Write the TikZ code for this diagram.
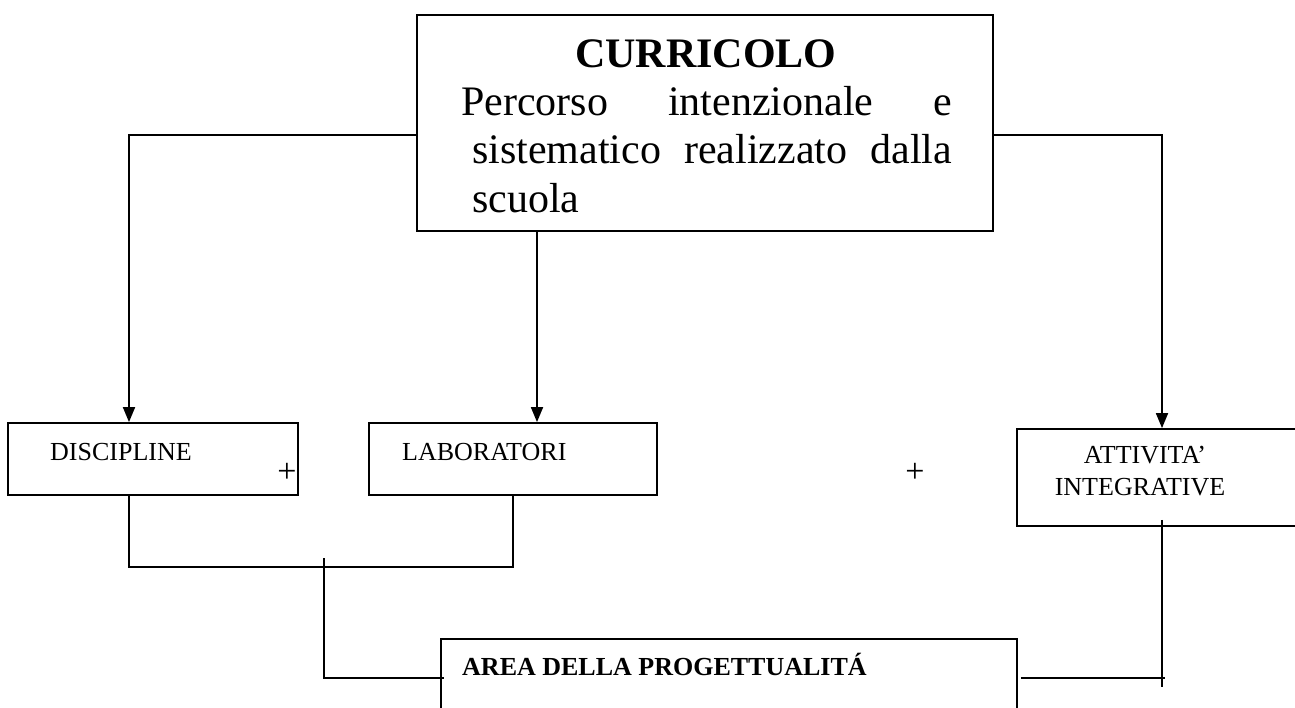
\documentclass[tikz,border=0pt]{standalone}
\usepackage{fontspec}
\setmainfont{Liberation Serif}
\usetikzlibrary{arrows.meta}
\begin{document}
\begin{tikzpicture}[x=1pt,y=-1pt,
  box/.style={draw,line width=1.8pt,inner sep=0pt,rectangle},
  txt/.style={inner sep=0pt,anchor=base west},
  conn/.style={line width=1.8pt},
  arr/.style={line width=1.8pt,-{Triangle[length=15pt,width=12pt]}},
  big/.style={font=\fontsize{42}{48}\selectfont},
  small/.style={font=\fontsize{26}{30}\selectfont}]
\useasboundingbox (0,0) rectangle (1295,707);
\clip (0,0) rectangle (1295,707);
% boxes
\node[box,minimum width=576pt,minimum height=216pt] (cur) at (705,123) {};
\node[box,minimum width=290pt,minimum height=72pt] (disc) at (153,459) {};
\node[box,minimum width=288pt,minimum height=72pt] (lab) at (513,459) {};
\node[box,minimum width=290pt,minimum height=97pt] (att) at (1162,477.5) {};
\node[box,minimum width=576pt,minimum height=90pt] (area) at (729,684) {};
% texts
\node[inner sep=0pt,anchor=base,font=\fontsize{42}{48}\selectfont\bfseries] (t0) at (706,67) {CURRICOLO};
\node[txt,big] (t1) at (461,115) {\makebox[491pt][s]{Percorso intenzionale e}};
\node[txt,big] (t2) at (472,163) {\makebox[480pt][s]{sistematico realizzato dalla}};
\node[txt,big] (t3) at (472,212) {scuola};
\node[txt,small] (td) at (50,460) {DISCIPLINE};
\node[txt,small] (tl) at (402,460) {LABORATORI};
\node[inner sep=0pt,anchor=base,small] (ta1) at (1145,463) {ATTIVITA’};
\node[inner sep=0pt,anchor=base,small] (ta2) at (1140,495) {INTEGRATIVE};
\node[txt,small,font=\fontsize{26}{30}\selectfont\bfseries] (tar) at (462,675) {AREA DELLA PROGETTUALITÁ};
\node[inner sep=0pt,font=\fontsize{34}{36}\selectfont] (p1) at (287,473) {+};
\node[inner sep=0pt,font=\fontsize{34}{36}\selectfont] (p2) at (915,473) {+};
% helper coordinates
\coordinate (yT) at (0,135);
\coordinate (xL) at (129,0);
\coordinate (xM) at (537,0);
\coordinate (xR) at (1162,0);
\coordinate (xLab) at (513,0);
\coordinate (yJ) at (0,567);
\coordinate (k1) at (324,558);
\coordinate (yB) at (0,678);
\coordinate (yE) at (0,687);
% arrows
\draw[arr] (cur.west |- yT) -| (xL |- disc.north);
\draw[arr] (xM |- cur.south) -- (xM |- lab.north);
\draw[arr] (cur.east |- yT) -| (xR |- att.north);
% lower connectors
\draw[conn] (xL |- disc.south) -- (xL |- yJ) -- (xLab |- yJ) -- (xLab |- lab.south);
\draw[conn] (k1) |- ([xshift=4pt]area.west |- yB);
\draw[conn] ([xshift=3pt]area.east |- yB) -- ([xshift=3pt]xR |- yB);
\draw[conn] ([yshift=7pt]xR |- att.south) -- (xR |- yE);
\end{tikzpicture}
\end{document}
